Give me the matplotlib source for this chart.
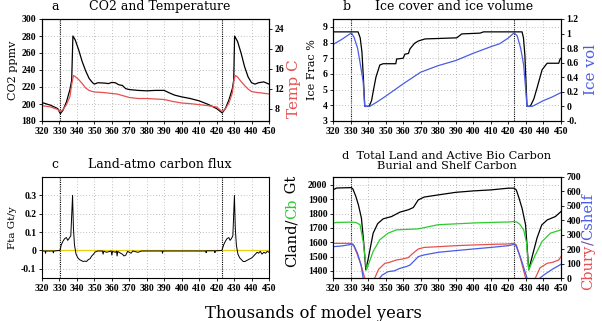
import matplotlib
matplotlib.use("Agg")
import matplotlib.pyplot as plt

# ---- data ----
years_ticks = list(range(320, 451, 10))
event_lines = [330.5, 423.2]

co2_x = [320, 325, 329, 330.5, 332, 334, 336, 337, 337.7, 339, 341, 343, 345, 347, 349, 350,
         352, 356, 358, 360, 362, 364, 366, 368, 370, 375, 380, 385, 390, 393, 396, 400,
         405, 410, 415, 420, 423.2, 425, 427, 429, 429.8, 430.3, 432, 434, 436, 438, 440,
         442, 444, 447, 450]
co2_y = [201.7, 198.5, 194.6, 188.7, 192.6, 202.5, 217, 228, 280, 275.5, 263.7, 250, 239, 230,
         225, 223.4, 225, 224.6, 224, 225.4, 225, 222.6, 221.8, 218, 217, 216, 215.5, 216, 216,
         213, 210.4, 208.4, 206.4, 203.7, 199.7, 194.6, 189.5, 194.6, 204.5, 218, 228, 280,
         273.5, 260, 244, 232, 225, 223.4, 225, 226, 223.4]

temp_x = [320, 325, 329, 330.5, 332, 334, 336, 337, 338, 339, 341, 343, 345, 347, 350, 355,
          360, 363, 366, 370, 375, 380, 385, 390, 395, 400, 405, 410, 415, 420, 423.2, 425,
          427, 429, 430, 430.7, 432, 434, 436, 438, 440, 443, 446, 450]
temp_y = [8.67, 8.4, 7.9, 7.47, 7.87, 8.87, 10.5, 12.9, 14.7, 14.5, 13.9, 13.1, 12.2, 11.7,
          11.4, 11.3, 11.1, 11.0, 10.7, 10.3, 10.1, 10.1, 10.0, 9.9, 9.5, 9.2, 9.07, 8.87,
          8.67, 8.4, 7.47, 8.0, 9.2, 11.2, 13.9, 14.7, 14.4, 13.5, 12.7, 12.0, 11.5, 11.3,
          11.2, 11.0]

icefrac_x = [320, 334.3, 335.5, 336.5, 337.3, 338.1, 340.6, 342.0, 342.9, 344.5, 346.7, 348.6,
             355.8, 356.3, 360, 361, 363, 363.9, 366.5, 368.7, 372.5, 390.6, 393.4, 403.9,
             405.8, 427.8, 428.6, 429.4, 430, 430.6, 432.5, 434.5, 436.3, 439.2, 442.1, 448.7,
             449.5, 450]
icefrac_y = [8.68, 8.68, 8.3, 7.4, 5.8, 3.94, 3.94, 4.3, 4.87, 5.8, 6.57, 6.65, 6.65, 6.95,
             7.0, 7.26, 7.3, 7.6, 7.95, 8.1, 8.23, 8.3, 8.55, 8.6, 8.68, 8.68, 8.3, 7.2, 5.6,
             3.94, 3.94, 4.4, 5.09, 6.26, 6.68, 6.68, 6.95, 7.0]

icevol_x = [320, 325, 330.5, 332, 334, 335.3, 337.2, 338.1, 340.9, 345, 350, 360, 370, 380,
            390, 400, 410, 415, 420, 423.2, 425, 427, 428.7, 430, 430.6, 433.5, 436, 440,
            445, 450]
icevol_y = [0.85, 0.92, 1.01, 0.95, 0.8, 0.62, 0.34, 0.0, 0.0, 0.06, 0.14, 0.31, 0.47, 0.56,
            0.63, 0.73, 0.82, 0.86, 0.94, 1.01, 0.97, 0.8, 0.57, 0.2, 0.0, 0.0, 0.03, 0.08,
            0.13, 0.19]

flux_x = [320, 321.8, 322, 322.3, 326.3, 326.5, 326.8, 330.3, 331, 332, 333, 334, 334.7,
          335.5, 336.5, 337.5, 338.0, 338.6, 339.5, 340.5, 341.5, 342.5, 343.5, 344.5, 345.5,
          346.5, 347.5, 348.5, 349.5, 350.5, 352, 354.6, 355, 355.4, 357, 359.6, 360, 360.4,
          362, 362.7, 363, 363.4, 365, 366, 367, 368, 369, 371, 372, 375, 377, 386, 388.8,
          389, 389.3, 400, 412, 413.8, 414, 414.3, 418.8, 419, 419.3, 423, 424, 425, 426,
          427, 427.7, 428.5, 429.3, 430.2, 430.7, 431.3, 432.2, 433.2, 434.2, 435.2, 436.2,
          437.2, 438.2, 439.2, 440.2, 441.2, 442.2, 443.2, 444, 445, 446, 447, 448, 449, 450]
flux_y = [-0.003, -0.003, -0.015, -0.003, -0.003, -0.013, -0.003, 0.0, 0.03, 0.05, 0.065,
          0.07, 0.055, 0.065, 0.08, 0.30, 0.12, 0.03, -0.02, -0.04, -0.05, -0.055, -0.06,
          -0.058, -0.06, -0.05, -0.045, -0.03, -0.02, -0.008, -0.003, -0.003, -0.02, -0.004,
          -0.01, -0.003, -0.025, -0.005, -0.01, -0.004, -0.03, -0.005, -0.015, -0.02, -0.03,
          -0.025, -0.005, -0.015, -0.003, -0.01, -0.003, -0.003, -0.003, -0.015, -0.003,
          -0.003, -0.003, -0.003, -0.012, -0.002, -0.002, -0.012, -0.002, 0.0, 0.03, 0.05,
          0.065, 0.07, 0.055, 0.065, 0.08, 0.30, 0.12, 0.03, -0.02, -0.04, -0.05, -0.06,
          -0.06, -0.055, -0.05, -0.045, -0.04, -0.03, -0.02, -0.01, -0.015, -0.005, -0.02,
          -0.01, -0.015, -0.005, -0.01]

cland_x = [320, 322, 330.5, 331.4, 333, 334.5, 336.2, 337.5, 338.7, 340, 342.9, 345.5, 348.6,
           353.4, 358.2, 362.9, 365.8, 368.6, 372, 380, 390, 400, 410, 420, 423.2, 424.5,
           426, 427.8, 429.8, 431.6, 434, 436.3, 439, 442.1, 446.8, 450]
cland_y = [1965, 1978, 1981, 1970, 1920, 1860, 1768, 1600, 1407, 1480, 1663, 1730, 1763, 1779,
           1810, 1826, 1842, 1895, 1915, 1930, 1948, 1958, 1965, 1977, 1977, 1965, 1910, 1837,
           1721, 1407, 1520, 1628, 1720, 1755, 1779, 1814]

cb_x = [320, 322, 330.5, 333, 335.4, 337.2, 339.1, 342.9, 346.7, 351.4, 356.2, 368.6, 380, 390,
        400, 410, 420, 423.2, 424.9, 426.5, 428.7, 430.3, 431.6, 433.5, 435.4, 439.2, 444, 450]
cb_y = [1733, 1738, 1740, 1738, 1722, 1606, 1407, 1536, 1617, 1663, 1686, 1693, 1722, 1728,
        1734, 1738, 1741, 1744, 1740, 1725, 1686, 1600, 1407, 1460, 1512, 1605, 1663, 1686]

cbury_x = [320, 330.5, 331.4, 334, 336, 338.1, 341, 343.8, 346, 349.6, 352, 356.2, 359,
           362.9, 365, 368.6, 372, 380, 390, 400, 410, 420, 423.2, 424.5, 427, 429.8, 433,
           435.4, 438, 442.1, 445, 448.7, 450]
cbury_y = [240, 240, 235, 160, 90, 0, -40, 0, 60, 102, 108, 125, 130, 141, 165, 201, 212, 217,
           224, 229, 233, 236, 240, 230, 130, 0, -40, 0, 70, 102, 108, 125, 148]

cshelf_x = [320, 325, 330.5, 332, 334, 336, 337.2, 340, 346.7, 348, 351.4, 355, 358.2, 362,
            363.9, 366, 368.6, 372, 380, 390, 400, 410, 420, 423.2, 424.5, 427, 430.6, 433,
            437, 440.2, 445, 450]
cshelf_y = [217, 222, 233, 225, 170, 90, 0, -40, 0, 20, 44, 50, 67, 80, 90, 115, 148, 160, 178,
            190, 201, 212, 224, 233, 220, 140, 0, -40, -10, 21, 60, 95]

# ---- style ----
TXT = "DejaVu Serif"
TICK = {"family": "Liberation Serif", "weight": "bold", "size": 7}
RED = "#e65050"
BLUE = "#4a5ce6"
GREEN = "#2ccc2c"
YEL = "#e8cc10"

fig = plt.figure(figsize=(6.02, 3.21), dpi=100)
W, H = 602.0, 321.0


def make_ax(x0, y0, x1, y1):
    # pixel box (top-left origin) -> figure fraction
    return fig.add_axes([x0 / W, 1 - y1 / H, (x1 - x0) / W, (y1 - y0) / H])


def style(ax, yticks, ylim, ylabels=None):
    ax.set_xlim(320, 450)
    ax.set_xticks(years_ticks)
    ax.set_xticklabels([str(t) for t in years_ticks], fontdict=TICK)
    ax.set_ylim(*ylim)
    ax.set_yticks(yticks)
    ax.set_yticklabels(ylabels if ylabels else [f"{t:g}" for t in yticks], fontdict=TICK)
    ax.tick_params(length=2.5, width=0.6, pad=1.5)
    ax.grid(True, color="#aaaaaa", linestyle=(0, (1, 2.5)), linewidth=0.6)
    for sp in ax.spines.values():
        sp.set_linewidth(0.8)
    for xv in event_lines:
        ax.axvline(xv, color="black", linestyle=(0, (1, 1)), linewidth=0.8, zorder=1)


def twin_style(tw, yticks, ylim, ylabels=None):
    tw.set_ylim(*ylim)
    tw.set_yticks(yticks)
    tw.set_yticklabels(ylabels if ylabels else [f"{t:g}" for t in yticks], fontdict=TICK)
    tw.tick_params(length=2.5, width=0.6, pad=1.5)


def rainbow(x, y, pieces, size):
    # vertical label made of differently coloured pieces, stacked bottom to top
    prev = fig.text(x / W, 1 - y / H, pieces[0][0], color=pieces[0][1], rotation=90,
                    ha="center", va="bottom", family=TXT, fontsize=size)
    for txt, col in pieces[1:]:
        prev = fig.get_axes()[0].annotate(txt, xy=(0, 1), xycoords=prev, color=col,
                                           rotation=90, ha="left", va="bottom",
                                           family=TXT, fontsize=size, annotation_clip=False)
    return prev


# ---- panel a ----
ax = make_ax(42, 19, 269, 121)
ax.plot(co2_x, co2_y, color="black", linewidth=0.9, zorder=3)
style(ax, list(range(180, 301, 20)), (180, 300))
ax.set_ylabel("CO2 ppmv", family=TXT, fontsize=8, labelpad=3)
tw = ax.twinx()
tw.plot(temp_x, temp_y, color=RED, linewidth=0.9)
twin_style(tw, list(range(8, 25, 4)), (5.6, 26))
fig.text(294 / W, 1 - 89 / H, "Temp C", family=TXT, fontsize=11, color=RED, rotation=90,
         ha="center", va="center")
ax.text(0.04, 1.06, "a", transform=ax.transAxes, family=TXT, fontsize=9, va="bottom")
ax.text(0.52, 1.06, "CO2 and Temperature", transform=ax.transAxes, family=TXT, fontsize=9,
        ha="center", va="bottom")

# ---- panel b ----
ax = make_ax(333, 19, 561, 121)
ax.plot(icefrac_x, icefrac_y, color="black", linewidth=0.9, zorder=3)
style(ax, list(range(3, 10)), (3, 9.5))
ax.set_ylabel("Ice Frac %", family=TXT, fontsize=8, labelpad=4)
tw = ax.twinx()
tw.plot(icevol_x, icevol_y, color=BLUE, linewidth=0.9)
vt = [-0.2, 0, 0.2, 0.4, 0.6, 0.8, 1.0, 1.2]
twin_style(tw, vt, (-0.2, 1.2), ["-0.", "0", "0.2", "0.4", "0.6", "0.8", "1", "1.2"])
tw.set_ylabel("Ice vol", family=TXT, fontsize=11, color=BLUE, labelpad=4)
ax.text(0.04, 1.06, "b", transform=ax.transAxes, family=TXT, fontsize=9, va="bottom")
ax.text(0.53, 1.06, "Ice cover and ice volume", transform=ax.transAxes, family=TXT,
        fontsize=9, ha="center", va="bottom")

# ---- panel c ----
ax = make_ax(42, 177, 269, 278)
ax.axhline(0, color=YEL, linewidth=0.9, zorder=2)
ax.plot(flux_x, flux_y, color="black", linewidth=0.7, zorder=3)
style(ax, [-0.1, 0, 0.1, 0.2, 0.3], (-0.15, 0.4))
ax.set_ylabel("Fta Gt/y", family=TXT, fontsize=7.5, labelpad=3)
ax.text(0.04, 1.06, "c", transform=ax.transAxes, family=TXT, fontsize=9, va="bottom")
ax.text(0.52, 1.06, "Land-atmo carbon flux", transform=ax.transAxes, family=TXT, fontsize=9,
        ha="center", va="bottom")

# ---- panel d ----
ax = make_ax(333, 177, 561, 278)
ax.plot(cland_x, cland_y, color="black", linewidth=0.9, zorder=3)
ax.plot(cb_x, cb_y, color=GREEN, linewidth=0.9, zorder=3)
style(ax, list(range(1400, 2001, 100)), (1350, 2055))
tw = ax.twinx()
tw.plot(cbury_x, cbury_y, color=RED, linewidth=0.9)
tw.plot(cshelf_x, cshelf_y, color=BLUE, linewidth=0.9)
twin_style(tw, list(range(0, 701, 100)), (0, 700))
ax.text(0.5, 1.06, "d  Total Land and Active Bio Carbon\nBurial and Shelf Carbon",
        transform=ax.transAxes, family=TXT, fontsize=8.2, ha="center", va="bottom",
        linespacing=1.0)

rainbow(292, 267, [("Cland/", "black"), ("Cb", GREEN), (" Gt", "black")], 10.5)
rainbow(588, 290, [("Cbury", RED), ("/", "#6a4aa0"), ("Cshelf", BLUE)], 10.5)

fig.text(313 / W, 1 - 313 / H, "Thousands of model years", family=TXT, fontsize=11.8,
         ha="center", va="center")

fig.savefig("out.png", dpi=100)
